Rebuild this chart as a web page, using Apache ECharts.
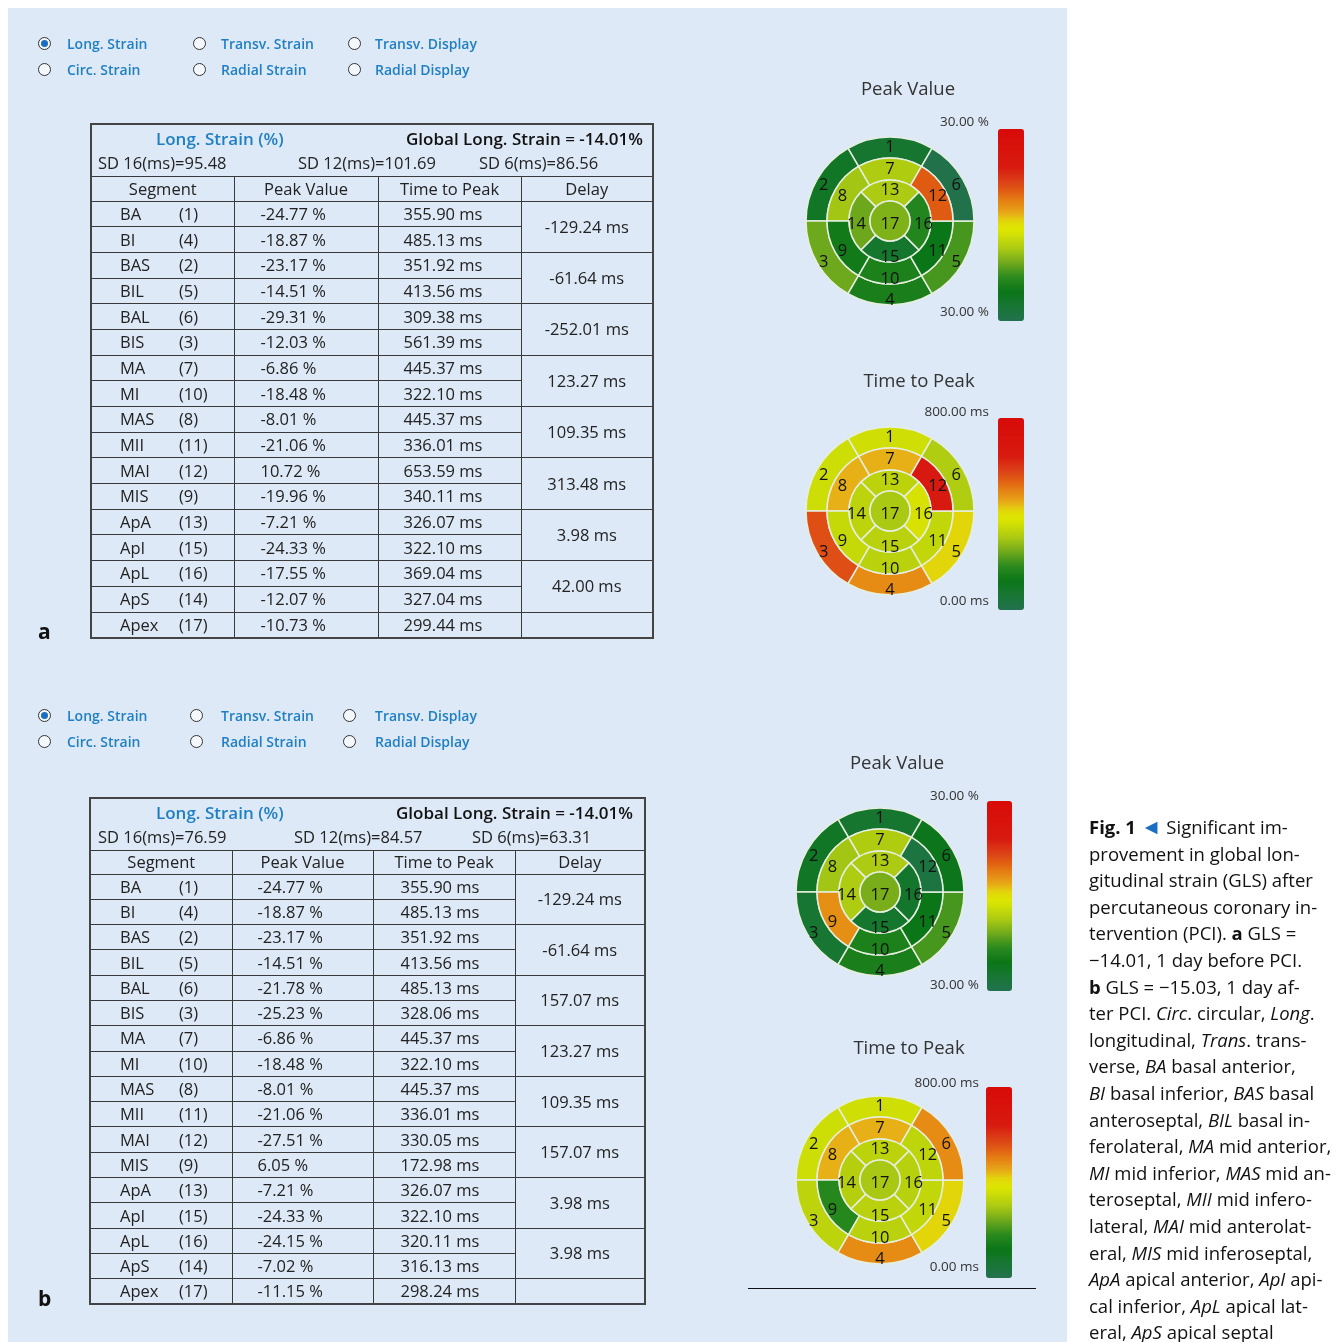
<!DOCTYPE html>
<html>
<head>
<meta charset="utf-8">
<script src="https://cdn.jsdelivr.net/npm/echarts@6.0.0/dist/echarts.min.js"></script>
<style>
html, body { margin: 0; padding: 0; background: #fff; }
body { width: 1337px; height: 1342px; position: relative; overflow: hidden; font-family: "Open Sans", sans-serif; color: #222; }
#panel { position: absolute; left: 8px; top: 8px; width: 1059px; height: 1334px; background: #dde9f6; }
#chart { position: absolute; left: 0; top: 0; width: 1337px; height: 1342px; }
.radio { position: absolute; font-size: 14px; font-weight: 600; color: #1f7fc4; line-height: 18px; white-space: nowrap; }
.dot { position: absolute; width: 11px; height: 11px; border: 1.5px solid #333; border-radius: 50%; background: #f4f8fc; }
.dot.on::after { content: ""; position: absolute; left: 2px; top: 2px; width: 7px; height: 7px; border-radius: 50%; background: #1a6fc0; }
table.seg { position: absolute; border-collapse: collapse; table-layout: fixed; font-size: 16.5px; border: 2px solid #444; }
table.seg td { border: 1.5px solid #3a3a3a; padding: 0; white-space: nowrap; line-height: 20px; }
.hb { position: relative; }
.hb span { position: absolute; line-height: 20px; white-space: nowrap; }
.ttl { color: #1f7fc4; font-weight: 600; font-size: 17px; }
.glb { font-weight: 600; font-size: 17px; color: #111; }
.hdr td { text-align: center; }
.nm { display: inline-block; }
.lbl { position: absolute; font-weight: 700; font-size: 21px; color: #111; }
#rule { position: absolute; left: 748px; top: 1288px; width: 288px; height: 0; border-top: 1.5px solid #111; }
#cap { position: absolute; left: 1089px; top: 814px; font-size: 18.5px; line-height: 26.6px; color: #111; white-space: nowrap; }
#cap .tri { color: #1a6fc0; font-size: 21px; line-height: 10px; }
</style>
</head>
<body>
<div id="panel"></div>
<div id="chart"></div>
<div id="overlay"></div>
<div id="rule"></div>
<div id="cap"><b>Fig. 1</b> <span class="tri">&#9668;</span> Significant im-<br>provement in global lon-<br>gitudinal strain (GLS) after<br>percutaneous coronary in-<br>tervention (PCI). <b>a</b> GLS =<br>&minus;14.01, 1 day before PCI.<br><b>b</b> GLS = &minus;15.03, 1 day af-<br>ter PCI. <i>Circ</i>. circular, <i>Long</i>.<br>longitudinal, <i>Trans</i>. trans-<br>verse, <i>BA</i> basal anterior,<br><i>BI</i> basal inferior, <i>BAS</i> basal<br>anteroseptal, <i>BIL</i> basal in-<br>ferolateral, <i>MA</i> mid anterior,<br><i>MI</i> mid inferior, <i>MAS</i> mid an-<br>teroseptal, <i>MII</i> mid infero-<br>lateral, <i>MAI</i> mid anterolat-<br>eral, <i>MIS</i> mid inferoseptal,<br><i>ApA</i> apical anterior, <i>ApI</i> api-<br>cal inferior, <i>ApL</i> apical lat-<br>eral, <i>ApS</i> apical septal</div>
<script>
// segment rows, in table order
const segNames = ["BA", "BI", "BAS", "BIL", "BAL", "BIS", "MA", "MI", "MAS", "MII", "MAI", "MIS", "ApA", "ApI", "ApL", "ApS", "Apex"];
const segNums = [1, 4, 2, 5, 6, 3, 7, 10, 8, 11, 12, 9, 13, 15, 16, 14, 17];

// a: 1 day before PCI
const peakA = [-24.77, -18.87, -23.17, -14.51, -29.31, -12.03, -6.86, -18.48, -8.01, -21.06, 10.72, -19.96, -7.21, -24.33, -17.55, -12.07, -10.73];
const ttpA = [355.90, 485.13, 351.92, 413.56, 309.38, 561.39, 445.37, 322.10, 445.37, 336.01, 653.59, 340.11, 326.07, 322.10, 369.04, 327.04, 299.44];
const delayA = [-129.24, -61.64, -252.01, 123.27, 109.35, 313.48, 3.98, 42.00];
const sdA = ["95.48", "101.69", "86.56"];

// b: 1 day after PCI
const peakB = [-24.77, -18.87, -23.17, -14.51, -21.78, -25.23, -6.86, -18.48, -8.01, -21.06, -27.51, 6.05, -7.21, -24.33, -24.15, -7.02, -11.15];
const ttpB = [355.90, 485.13, 351.92, 413.56, 485.13, 328.06, 445.37, 322.10, 445.37, 336.01, 330.05, 172.98, 326.07, 322.10, 320.11, 316.13, 298.24];
const delayB = [-129.24, -61.64, 157.07, 123.27, 109.35, 157.07, 3.98, 3.98];
const sdB = ["76.59", "84.57", "63.31"];

const globalStrain = "-14.01%";
const radioLabels = ["Long. Strain", "Transv. Strain", "Transv. Display", "Circ. Strain", "Radial Strain", "Radial Display"];

// bullseye rings: segment numbers in drawing order
const rings = [
    { segs: [1, 2, 3, 4, 5, 6], r: [63, 84], start: 60 },
    { segs: [7, 8, 9, 10, 11, 12], r: [41, 63], start: 60 },
    { segs: [13, 14, 15, 16], r: [20, 41], start: 45 },
    { segs: [17], r: [0, 20], start: 90 },
];

// colour bar stops, bottom -> top
const rampStops = [
    [0, "#22724f"], [0.08, "#177632"], [0.15, "#0b7618"], [0.23, "#2c8a1e"],
    [0.30, "#6ea81c"], [0.38, "#aecb12"], [0.47, "#dce600"], [0.52, "#e2d80a"],
    [0.56, "#e8aa18"], [0.61, "#e68a14"], [0.68, "#e05a12"], [0.72, "#dc4418"],
    [0.80, "#d81a10"], [1, "#d80a08"],
];

function hexToRgb(h) {
    return [1, 3, 5].map((i) => parseInt(h.substr(i, 2), 16));
}

function rampColors(n) {
    const out = [];
    for (let k = 0; k < n; k++) {
        const t = k / (n - 1);
        let j = 0;
        while (j < rampStops.length - 2 && rampStops[j + 1][0] < t) j++;
        const [t0, c0] = rampStops[j];
        const [t1, c1] = rampStops[j + 1];
        const f = (t - t0) / (t1 - t0);
        const a = hexToRgb(c0), b = hexToRgb(c1);
        out.push("rgb(" + a.map((v, i) => Math.round(v + (b[i] - v) * f)).join(",") + ")");
    }
    return out;
}

// ---------- HTML parts: radio buttons, tables, panel labels ----------
const overlay = document.getElementById("overlay");

function radios(top, xs) {
    let h = "";
    radioLabels.forEach((txt, i) => {
        const row = Math.floor(i / 3), col = i % 3;
        const cy = top + row * 26;
        h += `<div class="dot${i === 0 ? " on" : ""}" style="left:${xs[col][0] - 7}px;top:${cy - 7}px"></div>`;
        h += `<div class="radio" style="left:${xs[col][1]}px;top:${cy - 9}px">${txt}</div>`;
    });
    return h;
}

function fmt(v, unit) {
    return v.toFixed(2) + " " + unit;
}

function table(cfg, peak, ttp, delay, sd) {
    const W = cfg.cols.reduce((a, b) => a + b, 0);
    let h = `<table class="seg" style="left:${cfg.left}px;top:${cfg.top}px;width:${W}px">`;
    h += "<colgroup>" + cfg.cols.map((w) => `<col style="width:${w}px">`).join("") + "</colgroup>";
    h += `<tr style="height:${cfg.headH}px"><td colspan="4"><div class="hb" style="height:${cfg.headH - 2}px">`;
    h += `<span class="ttl" style="left:${cfg.ttlX}px;top:4px">Long. Strain (%)</span>`;
    h += `<span class="glb" style="right:${cfg.glbR}px;top:4px">Global Long. Strain = ${globalStrain}</span>`;
    h += `<span style="left:${cfg.sdX[0]}px;top:28px">SD 16(ms)=${sd[0]}</span>`;
    h += `<span style="left:${cfg.sdX[1]}px;top:28px">SD 12(ms)=${sd[1]}</span>`;
    h += `<span style="left:${cfg.sdX[2]}px;top:28px">SD 6(ms)=${sd[2]}</span>`;
    h += "</div></td></tr>";
    h += `<tr class="hdr" style="height:${cfg.hdrH}px"><td>Segment</td><td>Peak Value</td><td>Time to Peak</td><td>Delay</td></tr>`;
    segNames.forEach((name, i) => {
        h += `<tr style="height:${cfg.rowH}px">`;
        h += `<td style="padding-left:${cfg.pad[0]}px"><span class="nm" style="width:${cfg.numX}px">${name}</span>(${segNums[i]})</td>`;
        h += `<td style="padding-left:${cfg.pad[1]}px">${fmt(peak[i], "%")}</td>`;
        h += `<td style="padding-left:${cfg.pad[2]}px">${fmt(ttp[i], "ms")}</td>`;
        if (i === 16) h += "<td></td>";
        else if (i % 2 === 0) h += `<td rowspan="2" style="text-align:center">${fmt(delay[i / 2], "ms")}</td>`;
        h += "</tr>";
    });
    return h + "</table>";
}

let html = "";
html += radios(44, [[45, 67], [200, 221], [355, 375]]);
html += radios(716, [[45, 67], [197, 221], [350, 375]]);
html += table({ left: 90, top: 123, cols: [143, 144, 143, 132], headH: 52, hdrH: 25, rowH: 25.7,
    ttlX: 64, glbR: 9, sdX: [6, 206, 387], pad: [28, 26, 25], numX: 59 }, peakA, ttpA, delayA, sdA);
html += table({ left: 89, top: 797, cols: [142, 141, 142, 130], headH: 52, hdrH: 24, rowH: 25.3,
    ttlX: 65, glbR: 11, sdX: [7, 203, 381], pad: [29, 25, 27], numX: 59 }, peakB, ttpB, delayB, sdB);
html += `<div class="lbl" style="left:38px;top:617px">a</div>`;
html += `<div class="lbl" style="left:38px;top:1284px">b</div>`;
overlay.innerHTML = html;

// ---------- ECharts: bullseyes and colour bars ----------
const chart = echarts.init(document.getElementById("chart"), null, { renderer: "canvas" });

const plots = [
    { cx: 890, cy: 221, vals: peakA, min: -30, max: 30, bar: [998, 129, 26, 192], title: "Peak Value", tx: 908, ty: 90, hi: "30.00 %", lo: "30.00 %", lx: 989, ly: [122, 312] },
    { cx: 890, cy: 511, vals: ttpA, min: 0, max: 800, bar: [998, 418, 26, 192], title: "Time to Peak", tx: 919, ty: 382, hi: "800.00 ms", lo: "0.00 ms", lx: 989, ly: [412, 601] },
    { cx: 880, cy: 892, vals: peakB, min: -30, max: 30, bar: [987, 801, 25, 190], title: "Peak Value", tx: 897, ty: 764, hi: "30.00 %", lo: "30.00 %", lx: 979, ly: [796, 985] },
    { cx: 880, cy: 1180, vals: ttpB, min: 0, max: 800, bar: [986, 1087, 26, 191], title: "Time to Peak", tx: 909, ty: 1049, hi: "800.00 ms", lo: "0.00 ms", lx: 979, ly: [1083, 1267] },
];

const datasets = [], series = [], visualMaps = [], graphics = [];
const colors = rampColors(41);

plots.forEach((p, pi) => {
    const idx = [];
    rings.forEach((ring) => {
        const source = ring.segs.map((s) => [String(s), 1, p.vals[segNums.indexOf(s)]]);
        datasets.push({ source, sourceHeader: false, dimensions: ["seg", "w", "val"] });
        idx.push(series.length);
        series.push({
            type: "pie",
            datasetIndex: datasets.length - 1,
            encode: { itemName: "seg", value: "w", tooltip: "val" },
            center: [p.cx, p.cy],
            radius: ring.r,
            startAngle: ring.start,
            clockwise: false,
            silent: true,
            animation: false,
            label: {
                show: true,
                position: ring.r[0] === 0 ? "center" : "inside",
                formatter: "{b}",
                color: "#111",
                fontSize: 16.5,
                fontWeight: 500,
                fontFamily: "Open Sans",
                offset: [0, 3],
            },
            labelLine: { show: false },
            itemStyle: { borderColor: "#e6eee0", borderWidth: 1.5 },
            emphasis: { disabled: true },
        });
    });
    visualMaps.push({
        type: "continuous",
        min: p.min,
        max: p.max,
        dimension: 2,
        seriesIndex: idx,
        calculable: false,
        hoverLink: false,
        text: null,
        padding: 0,
        left: p.bar[0],
        top: p.bar[1],
        itemWidth: p.bar[2],
        itemHeight: p.bar[3],
        inRange: { color: colors },
    });
    graphics.push({
        type: "text", x: p.tx, y: p.ty,
        style: { text: p.title, fill: "#333", font: "18.5px 'Open Sans'", align: "center", verticalAlign: "middle" },
    });
    [p.hi, p.lo].forEach((t, k) => {
        graphics.push({
            type: "text", x: p.lx, y: p.ly[k],
            style: { text: t, fill: "#333", font: "13.5px 'Open Sans'", align: "right", verticalAlign: "middle" },
        });
    });
});

chart.setOption({
    animation: false,
    dataset: datasets,
    series: series,
    visualMap: visualMaps,
    graphic: graphics,
});
</script>
</body>
</html>
